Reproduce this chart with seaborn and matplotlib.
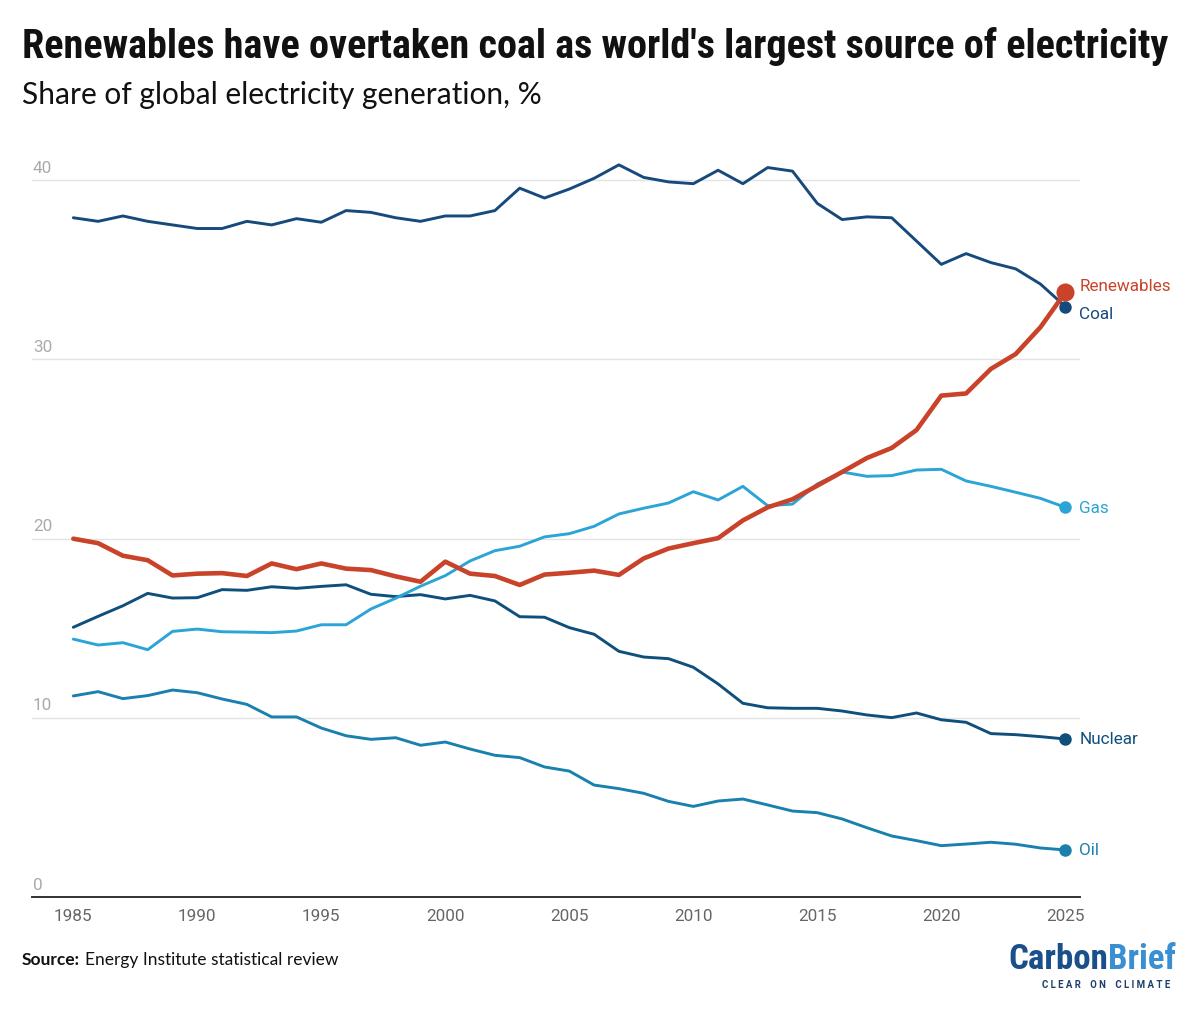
import numpy as np
import pandas as pd
import matplotlib
matplotlib.use("Agg")
import matplotlib.pyplot as plt
import seaborn as sns
from matplotlib import font_manager as fm
import matplotlib.transforms as mtrans

# ---------------- data ----------------
years = list(range(1985, 2026))
coal = [37.9, 37.7, 38.0, 37.7, 37.5, 37.3, 37.3, 37.7, 37.5, 37.85,
        37.65, 38.3, 38.2, 37.9, 37.7, 38.0, 38.0, 38.3, 39.55, 39.0,
        39.5, 40.1, 40.85, 40.15, 39.9, 39.8, 40.55, 39.8, 40.7, 40.5,
        38.7, 37.8, 37.95, 37.9, 36.6, 35.3, 35.9, 35.4, 35.05, 34.2, 32.95]
renewables = [20.0, 19.75, 19.05, 18.8, 17.95, 18.05, 18.08, 17.92, 18.62, 18.3,
              18.62, 18.33, 18.25, 17.9, 17.6, 18.72, 18.05, 17.92, 17.42, 18.0,
              18.1, 18.22, 17.98, 18.9, 19.45, 19.75, 20.03, 21.02, 21.75, 22.2,
              22.96, 23.72, 24.5, 25.06, 26.06, 27.98, 28.1, 29.47, 30.3, 31.8, 33.74]
gas = [14.4, 14.07, 14.2, 13.81, 14.83, 14.96, 14.81, 14.79, 14.76, 14.85,
       15.2, 15.2, 16.08, 16.68, 17.35, 17.94, 18.76, 19.33, 19.58, 20.1,
       20.28, 20.69, 21.38, 21.7, 21.99, 22.62, 22.16, 22.92, 21.84, 21.93,
       23.05, 23.72, 23.48, 23.52, 23.83, 23.87, 23.22, 22.92, 22.59, 22.25, 21.75]
nuclear = [15.06, 15.67, 16.26, 16.95, 16.69, 16.71, 17.16, 17.12, 17.32, 17.23,
           17.34, 17.43, 16.9, 16.77, 16.88, 16.64, 16.84, 16.53, 15.65, 15.62,
           15.04, 14.67, 13.72, 13.4, 13.31, 12.83, 11.9, 10.82, 10.57, 10.54,
           10.54, 10.39, 10.17, 10.02, 10.28, 9.9, 9.76, 9.13, 9.07, 8.96, 8.83]
oil = [11.23, 11.47, 11.08, 11.25, 11.56, 11.41, 11.06, 10.76, 10.06, 10.06,
       9.44, 9.01, 8.81, 8.9, 8.48, 8.66, 8.27, 7.92, 7.79, 7.27,
       7.04, 6.26, 6.06, 5.8, 5.35, 5.07, 5.37, 5.48, 5.15, 4.81,
       4.72, 4.37, 3.88, 3.42, 3.16, 2.88, 2.97, 3.07, 2.96, 2.75, 2.64]

series_names = ["Coal", "Nuclear", "Oil", "Gas", "Renewables"]
series_values = [coal, nuclear, oil, gas, renewables]
colors = {"Coal": "#174a7c", "Nuclear": "#0f4f7c", "Oil": "#1a80ae",
          "Gas": "#2ba4d6", "Renewables": "#c9432a"}
label_offsets_pt = {"Coal": -5, "Nuclear": 0, "Oil": 0, "Gas": 0, "Renewables": 5}

x_ticks = [1985, 1990, 1995, 2000, 2005, 2010, 2015, 2020, 2025]
y_ticks = [0, 10, 20, 30, 40]

title = "Renewables have overtaken coal as world's largest source of electricity"
subtitle = "Share of global electricity generation, %"
source_bold = "Source:"
source_text = "Energy Institute statistical review"

df = pd.DataFrame({
    "year": np.tile(years, len(series_names)),
    "share": np.concatenate(series_values),
    "source": np.repeat(series_names, len(years)),
})

# ---------------- fonts ----------------
def has_font(name):
    try:
        fm.findfont(fm.FontProperties(family=name), fallback_to_default=False)
        return True
    except Exception:
        return False

cond = next((f for f in ["Liberation Sans Narrow", "Roboto Condensed", "Open Sans Condensed"]
             if has_font(f)), "Liberation Sans")
humanist = "Lato" if has_font("Lato") else "DejaVu Sans"
roboto = "Roboto" if has_font("Roboto") else "DejaVu Sans"

sns.set_theme(style="white")
plt.rcParams["font.family"] = [roboto, "DejaVu Sans"]

W, H = 1200, 1012
fig = plt.figure(figsize=(W / 100, H / 100), dpi=100)

# axes placement in pixels
ax_left, ax_right, ax_bottom_px, ax_top_px = 32, 1080, 898.3, 136.3
ax = fig.add_axes([ax_left / W, 1 - ax_bottom_px / H,
                   (ax_right - ax_left) / W, (ax_bottom_px - ax_top_px) / H])

x0 = 1985 - (73.3 - ax_left) / 24.8
x1 = 1985 + (ax_right - 73.3) / 24.8
ax.set_xlim(x0, x1)
ax.set_ylim(0, (ax_bottom_px - ax_top_px) / 17.93)

for name in series_names:
    sub = df[df["source"] == name]
    lw = 3.3 if name == "Renewables" else 2.1
    z = 5 if name == "Renewables" else 3
    sns.lineplot(data=sub, x="year", y="share", color=colors[name], lw=lw,
                 ax=ax, zorder=z, legend=False)
    last_x = sub["year"].iloc[-1]
    last_y = sub["share"].iloc[-1]
    ms = 13 if name == "Renewables" else 9
    ax.plot([last_x], [last_y], "o", color=colors[name], ms=ms, mew=0, zorder=z + 1)
    ax.annotate(name, (last_x, last_y), xytext=(10, label_offsets_pt[name]),
                textcoords="offset points", ha="left", va="center",
                color=colors[name], fontsize=12.3, family=roboto,
                annotation_clip=False)

ax.set_xlabel("")
ax.set_ylabel("")
for s in ["top", "right", "left"]:
    ax.spines[s].set_visible(False)
ax.spines["bottom"].set_color("#333333")
ax.spines["bottom"].set_linewidth(1.4)
ax.spines["bottom"].set_zorder(10)

ax.set_xticks(x_ticks)
ax.set_xticklabels([str(t) for t in x_ticks])
ax.tick_params(axis="x", length=0, pad=8, labelsize=12.3, labelcolor="#666666")
ax.set_yticks(y_ticks)
ax.set_yticklabels([])
ax.tick_params(axis="y", length=0)
ax.yaxis.grid(True, color="#e3e3e3", lw=1.0)
ax.xaxis.grid(False)
ax.set_axisbelow(True)

trans = mtrans.blended_transform_factory(ax.transAxes, ax.transData)
for t in y_ticks:
    ax.text(0.001, t, str(t), transform=trans + mtrans.ScaledTranslation(0, 4 / 72, fig.dpi_scale_trans),
            ha="left", va="bottom", color="#aaaaaa", fontsize=12.3, family=roboto)

# ---------------- titles / footer ----------------
renderer = fig.canvas.get_renderer()

def fig_xy(px, py):
    return px / W, 1 - py / H

def fit_text(px, py, s, width_px, start_size, **kw):
    t = fig.text(*fig_xy(px, py), s, fontsize=start_size, va="baseline", ha="left", **kw)
    w = t.get_window_extent(renderer).width
    t.set_fontsize(start_size * width_px / w)
    return t

fit_text(22, 58, title, 1150, 30, family=[cond, "DejaVu Sans"], weight="bold", color="#111111")
fit_text(22, 104, subtitle, 520, 20, family=[humanist, "DejaVu Sans"], color="#111111")

tb = fig.text(*fig_xy(22, 965), source_bold, fontsize=12.5, weight="bold",
              family=[humanist, "DejaVu Sans"], va="baseline", ha="left", color="#111111")
wb = tb.get_window_extent(renderer).width
fig.text(*fig_xy(22 + wb + 5, 965), source_text, fontsize=12.5,
         family=[humanist, "DejaVu Sans"], va="baseline", ha="left", color="#111111")

# logo
tc = fit_text(1008, 969, "Carbon", 100, 24, family=[cond, "DejaVu Sans"], weight="bold", color="#1b4f8a")
wc = tc.get_window_extent(renderer).width
fit_text(1008 + wc, 969, "Brief", 68, 24, family=[cond, "DejaVu Sans"], weight="bold", color="#3a8fd2")
fit_text(1042, 988, "C L E A R    O N    C L I M A T E", 131, 5, family=[roboto, "DejaVu Sans"],
         weight="bold", color="#1b3f6a")

fig.savefig("out.png", dpi=100, facecolor="white")
